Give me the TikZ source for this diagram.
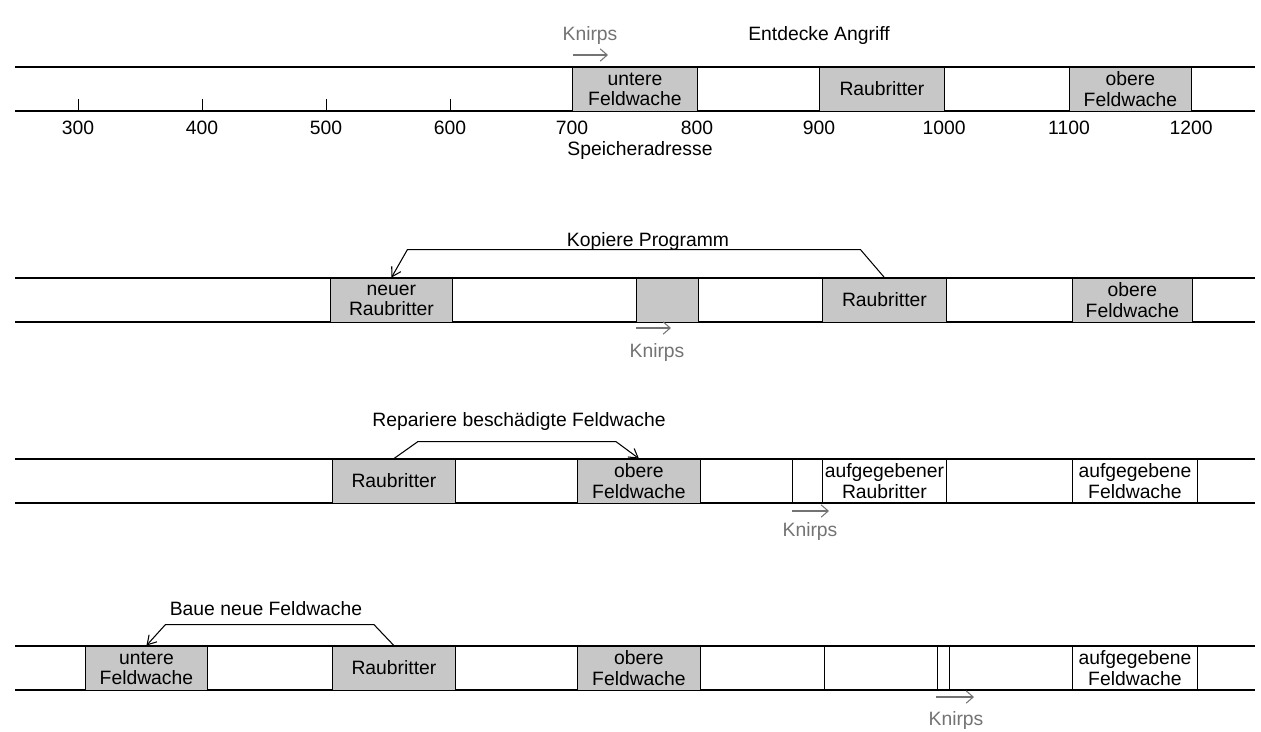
\documentclass[tikz,border=0pt]{standalone}
\usepackage{fontspec}
\setmainfont{Liberation Sans}
\usetikzlibrary{positioning, arrows.meta, calc}
\tikzset{
    strip/.style={line width=0.6pt, black},
    cell/.style={draw=black, line width=0.5pt, anchor=west, minimum height=0.88cm, minimum width=2.46cm, inner sep=1pt, align=center, font=\fontsize{11}{11.5}\selectfont},
    occupied/.style={cell, fill=black!22},
    caption/.style={inner sep=1pt, font=\fontsize{11}{12}\selectfont},
    knirps/.style={caption, text=black!55},
    move/.style={draw=black!55, line width=0.6pt, -{Straight Barb[length=4pt, width=7pt]}},
    task/.style={draw=black, line width=0.6pt, -{Straight Barb[length=5pt, width=6pt]}},
    tickmark/.style={line width=0.5pt},
}

\begin{document}
\begin{tikzpicture}[x=0.02cm, y=-0.02cm]
    \useasboundingbox (0,0) rectangle (1261,731);

    % Zeile 1: Entdecke Angriff
    \draw[strip] (15,67) -- (1255,67) (15,111) -- (1255,111);
    \node[occupied, minimum width=2.5cm] (uf1) at (572,89) {untere\\Feldwache};
    \node[occupied, minimum width=2.5cm] (rb1) at (819,89) {Raubritter};
    \node[occupied, minimum width=2.44cm] (of1) at (1069,89) {obere\\Feldwache};
    \foreach \x in {78,202,326,450}
        \draw[tickmark] (\x,111) -- (\x,99);
    \foreach \a/\x in {300/78,400/202,500/326,600/450,700/572,800/697,900/819,1000/944,1100/1069,1200/1191}
        \node[caption] (adr\a) at (\x,128) {\a};
    \node[caption] (addr) at (640,150) {Speicheradresse};
    \node[caption] (task1) at (819,35) {Entdecke Angriff};
    \node[knirps] (kn1) at (590,35) {Knirps};
    \coordinate (k1a) at (573,55);
    \coordinate (k1b) at (608,55);
    \draw[move] (k1a) -- (k1b);

    % Zeile 2: Kopiere Programm
    \draw[strip] (15,278) -- (1255,278) (15,322) -- (1255,322);
    \node[occupied, minimum width=2.44cm] (nrb2) at (330,300) {neuer\\Raubritter};
    \node[occupied, minimum width=1.24cm] (blank2) at (636,300) {};
    \node[occupied, minimum width=2.48cm] (rb2) at (822,300) {Raubritter};
    \node[occupied, minimum width=2.4cm] (of2) at (1072,300) {obere\\Feldwache};
    \node[caption] (task2) at (648,241) {Kopiere Programm};
    \draw[task] (rb2.north) -- ++(-24,-28) -- ($(nrb2.north)+(16,-28)$) -- (nrb2.north);
    \node[knirps] (kn2) at (657,352) {Knirps};
    \coordinate (k2a) at (636,328);
    \coordinate (k2b) at (671,328);
    \draw[move] (k2a) -- (k2b);

    % Zeile 3: Repariere beschaedigte Feldwache
    \draw[strip] (15,459) -- (1255,459) (15,503) -- (1255,503);
    \node[occupied] (rb3) at (332,481) {Raubritter};
    \node[occupied] (of3) at (577,481) {obere\\Feldwache};
    \node[cell, minimum width=0.6cm] (blank3) at (792,481) {};
    \node[cell, minimum width=2.48cm] (ar3) at (822,481) {aufgegebener\\Raubritter};
    \node[cell, minimum width=2.5cm] (af3) at (1072,481) {aufgegebene\\Feldwache};
    \node[caption] (task3) at (519,421) {Repariere beschädigte Feldwache};
    \draw[task] (rb3.north) -- ++(24,-17) -- ($(of3.north)+(-23,-17)$) -- (of3.north);
    \node[knirps] (kn3) at (810,531) {Knirps};
    \coordinate (k3a) at (792,511);
    \coordinate (k3b) at (829,511);
    \draw[move] (k3a) -- (k3b);

    % Zeile 4: Baue neue Feldwache
    \draw[strip] (15,646) -- (1255,646) (15,690) -- (1255,690);
    \node[occupied, minimum width=2.44cm] (uf4) at (85,668) {untere\\Feldwache};
    \node[occupied] (rb4) at (332,668) {Raubritter};
    \node[occupied] (of4) at (577,668) {obere\\Feldwache};
    \node[cell, minimum width=2.48cm] (free4) at (700,668) {};
    \node[cell, minimum width=0.24cm] (blank4) at (937,668) {};
    \node[cell, minimum width=2.5cm] (af4) at (1072,668) {aufgegebene\\Feldwache};
    \node[caption] (task4) at (266,609) {Baue neue Feldwache};
    \draw[task] (rb4.north) -- ++(-20,-21) -- ($(uf4.north)+(19,-21)$) -- (uf4.north);
    \node[knirps] (kn4) at (956,720) {Knirps};
    \coordinate (k4a) at (936,697);
    \coordinate (k4b) at (974,697);
    \draw[move] (k4a) -- (k4b);
\end{tikzpicture}
\end{document}
